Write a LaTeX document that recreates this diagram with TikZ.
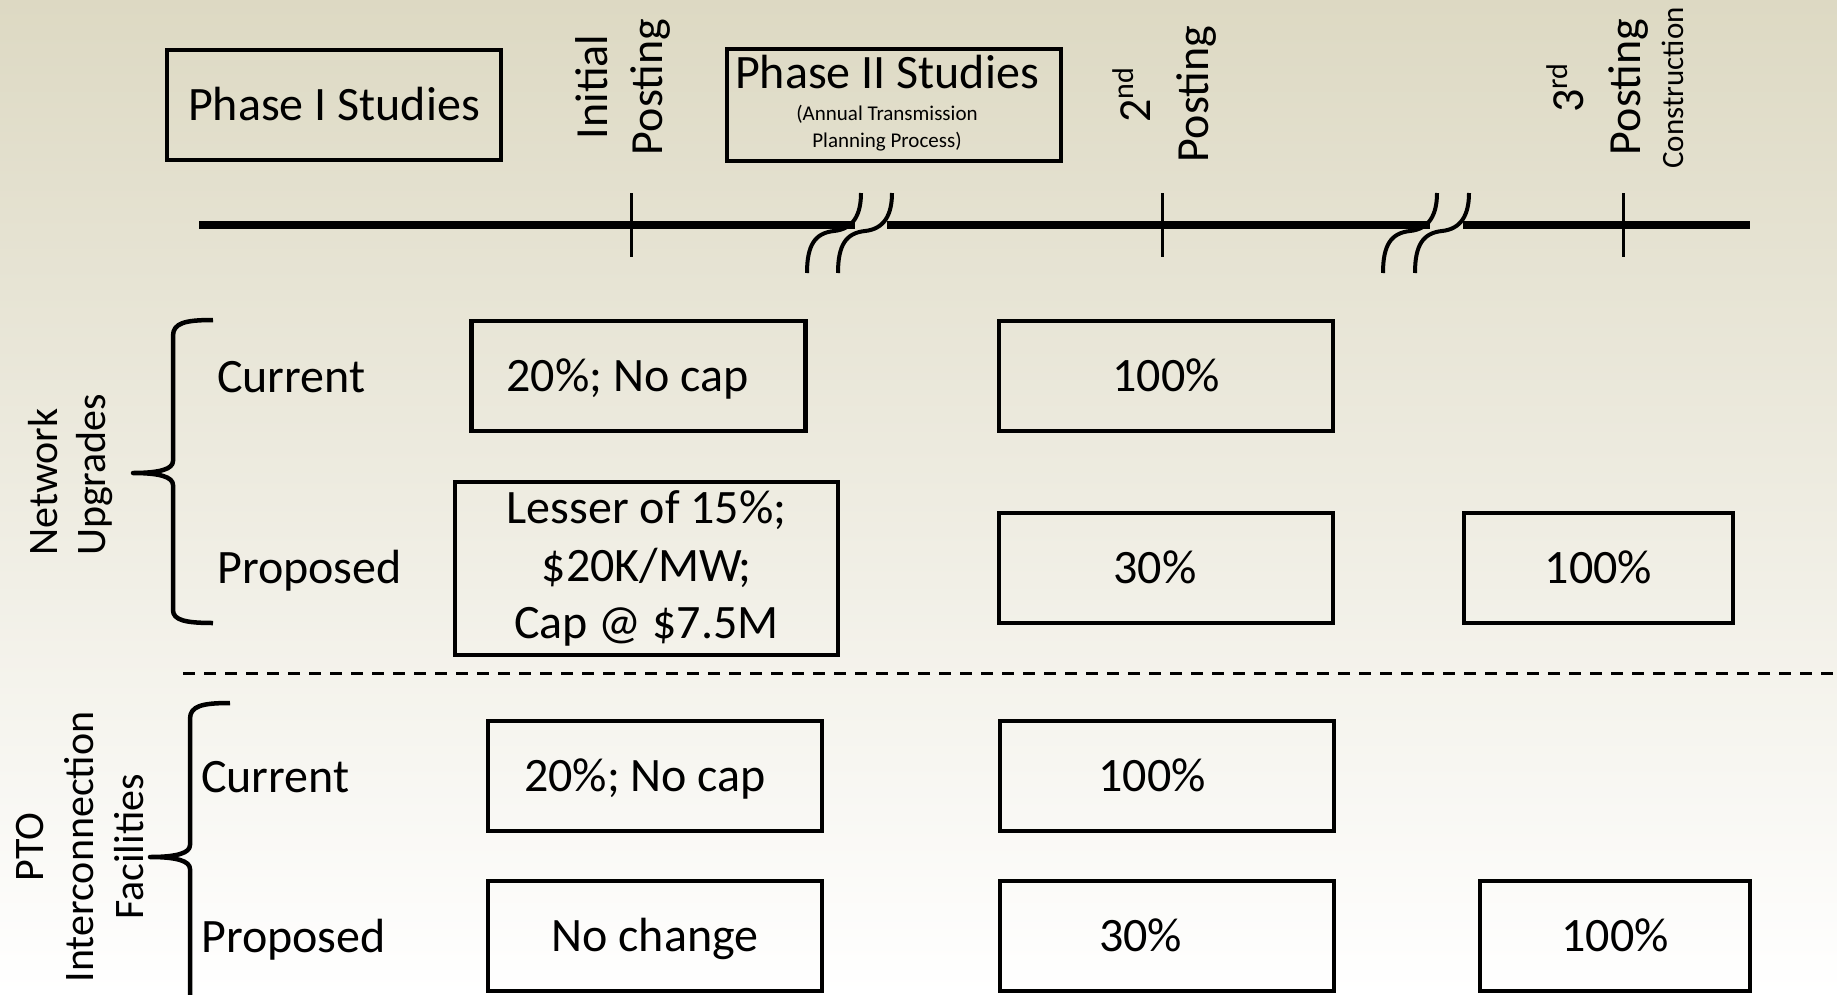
\documentclass[tikz,border=0pt]{standalone}
\usepackage{fontspec}
\setmainfont{Carlito}
\newcommand\myfs[2]{\fontsize{#1pt}{#2pt}\selectfont}
\definecolor{bgtop}{RGB}{221,217,195}
\begin{document}
\begin{tikzpicture}[x=1pt,y=-1pt,
  boxbase/.style={draw=black, line width=4.5pt, inner sep=0pt, font=\myfs{48}{57.5}},
  onebox/.style={boxbase, minimum width=334pt, minimum height=110pt, text height=31pt, text depth=0pt},
  lbl/.style={inner sep=0pt, anchor=base west, font=\myfs{48}{57.6}},
  rottxt/.style={inner sep=0pt, rotate=90, anchor=base, font=\myfs{46}{55}},
  sidetxt/.style={inner sep=0pt, rotate=90, font=\myfs{42}{50}},
  plaintxt/.style={inner sep=0pt, anchor=base},
  tline/.style={line width=8pt},
  tickmark/.style={line width=3pt},
  brk/.style={line width=4pt},
  bracepath/.style={line width=4.5pt, line join=round},
  sepline/.style={line width=3pt, dash pattern=on 12pt off 9pt}]

\useasboundingbox (0,0) rectangle (1837,994);
\clip (0,0) rectangle (1837,994);
\shade[top color=bgtop, bottom color=white] (0,0) rectangle (1837,994);

% timeline
\coordinate (tlA) at (199,225);
\coordinate (tlB) at (855,225);
\coordinate (tlC) at (887,225);
\coordinate (tlD) at (1430,225);
\coordinate (tlE) at (1463,225);
\coordinate (tlF) at (1750,225);
\draw[tline] (tlA) -- (tlB);
\draw[tline] (tlC) -- (tlD);
\draw[tline] (tlE) -- (tlF);
\foreach \x in {631,1162,1623} \draw[tickmark] (\x,193) -- (\x,257);
\foreach \x in {807,838,1383,1415}
  \draw[brk] (\x,273) .. controls (\x,245) and (\x+8,233) .. (\x+27,231)
             .. controls (\x+46,229) and (\x+54,215) .. (\x+54,193);

% top labels
\node[onebox] (phA) at (334,105) {Phase I Studies};
\node[boxbase, minimum width=334pt, minimum height=112pt] (phB) at (894,105) {};
\node[plaintxt, font=\myfs{48}{57.6}] (phBt) at (887,88) {Phase II Studies};
\node[plaintxt, font=\myfs{21}{26}] (phBs1) at (887,120) {(Annual Transmission};
\node[plaintxt, font=\myfs{21}{26}] (phBs2) at (887,147) {Planning Process)};

\node[rottxt] (initA) at (607,87) {Initial};
\node[rottxt] (initB) at (662,87) {Posting};
\node[rottxt] (secA) at (1150,95) {2\raisebox{17pt}{\myfs{30}{30}nd}};
\node[rottxt] (secB) at (1208,94) {Posting};
\node[rottxt] (thrA) at (1583,88) {3\raisebox{16pt}{\myfs{30}{30}rd}};
\node[rottxt] (thrB) at (1640,87) {Posting};
\node[rottxt, font=\myfs{31}{37}] (thrC) at (1683,88) {Construction};

% side labels
\node[sidetxt, anchor=base west] (nwA) at (57,556) {Network};
\node[sidetxt, anchor=base west] (nwB) at (105,556) {Upgrades};
\node[sidetxt, anchor=base] (ptoA) at (43,847) {PTO};
\node[sidetxt, anchor=base] (ptoB) at (93,847) {Interconnection};
\node[sidetxt, anchor=base] (ptoC) at (143,847) {Facilities};

% braces
\draw[bracepath] (213,320) .. controls (185,320) and (173,323) .. (173,336) -- (173,461)
  .. controls (173,469) and (160,473) .. (133,473)
  .. controls (160,473) and (173,477) .. (173,485) -- (173,610)
  .. controls (173,620) and (185,623) .. (213,623);
\draw[bracepath] (230,703) .. controls (202,703) and (190,706) .. (190,719) -- (190,845)
  .. controls (190,853) and (177,857) .. (150,857)
  .. controls (177,857) and (190,861) .. (190,869) -- (190,995)
  .. controls (190,1005) and (202,1011) .. (230,1011);

% row labels
\node[lbl] (nuCur) at (217,392) {Current};
\node[lbl] (nuProp) at (217,583) {Proposed};
\node[lbl] (ptCur) at (201,792) {Current};
\node[lbl] (ptProp) at (201,952) {Proposed};

% boxes
\node[onebox] (nuCa) at (638.5,376) {20\%; No cap\hspace*{22pt}};
\node[onebox] (nuCb) at (1166,376) {100\%};
\node[boxbase, minimum width=383pt, minimum height=173pt, align=center] (nuPa) at (646.5,568.5) {Lesser of 15\%;\\ \$20K/MW;\\ Cap @ \$7.5M};
\node[onebox] (nuPb) at (1166,568) {30\%\hspace*{22pt}};
\node[onebox, minimum width=269pt] (nuPc) at (1598.5,568) {100\%};

\coordinate (sepL) at (183,673);
\coordinate (sepR) at (1837,673);
\draw[sepline] (sepL) -- (sepR);

\node[onebox] (ptCa) at (655,776) {20\%; No cap\hspace*{20pt}};
\node[onebox] (ptCb) at (1167,776) {100\%\hspace*{30pt}};
\node[onebox] (ptPa) at (655,936) {No change};
\node[onebox] (ptPb) at (1167,936) {30\%\hspace*{53pt}};
\node[onebox, minimum width=270pt] (ptPc) at (1615,936) {100\%};
\end{tikzpicture}
\end{document}
